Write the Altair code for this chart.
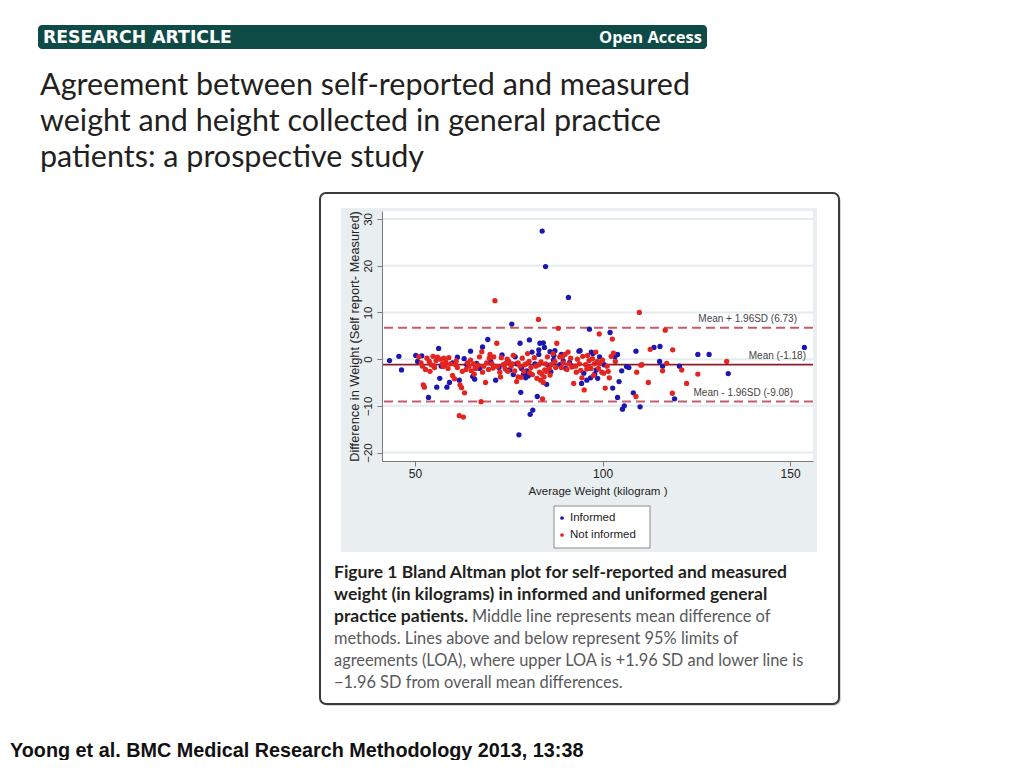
import altair as alt
import pandas as pd

# ---------------- data ----------------
blue_x = [43.2, 45.7, 46.4, 50.2, 50.7, 51.8, 53.6, 55.8, 56.3, 56.6, 57.0, 58.5, 59.2, 60.0,
          61.3, 61.8, 63.1, 63.8, 64.8, 65.4, 65.9, 66.4, 67.2, 68.0, 69.4, 70.2, 71.5, 72.4,
          73.2, 74.5, 75.3, 75.8, 76.7, 77.0, 77.7, 78.0, 78.2, 78.4, 78.9, 79.3, 79.8, 80.5,
          80.7, 81.4, 81.2, 82.0, 82.6, 83.0, 83.3, 83.9, 84.2, 84.8, 85.1, 85.5, 86.0, 86.9,
          87.3, 88.6, 89.5, 90.9, 92.0, 93.7, 94.4, 95.0, 95.8, 96.5, 96.8, 97.4, 97.9, 98.3,
          98.7, 99.2, 100.4, 102.0, 102.7, 104.0, 104.0, 104.4, 105.1, 105.3, 105.8, 106.4,
          107.0, 108.2, 108.9, 110.0, 113.7, 115.3, 115.2, 116.0, 119.2, 120.5, 125.4, 128.4,
          133.5, 153.8, 103.3, 97.0, 94.0,
          76.2, 79.5, 80.2, 83.0, 84.5, 86.2, 87.0, 89.0, 90.2, 91.2]
blue_y = [-0.3, 0.6, -2.3, 0.8, -0.5, 0.7, -8.2, -6.0, 2.3, -4.1, -1.5, -6.0, -5.0, -0.8,
          0.4, -4.5, 0.1, -1.2, 1.7, -3.7, -4.3, -0.9, -2.0, 2.6, 4.2, -0.5, -4.5, -1.8,
          0.9, -2.4, -2.3, 7.5, 0.5, -1.0, -16.2, 3.4, -7.1, -2.0, -3.3, -3.4, -2.5, 4.1,
          -11.8, -10.9, 1.5, -1.0, -8.0, 2.0, 3.4, 27.4, 3.5, 19.8, -5.4, -1.3, 1.6, -0.2,
          1.8, -1.2, -0.4, 13.2, -1.5, 1.7, -5.2, -3.0, -4.5, 6.4, -4.0, 1.2, -3.2, -2.3,
          -4.1, 0.5, -1.2, 5.7, -6.2, 1.0, -8.2, -4.8, -2.5, -10.7, -10.0, -1.6,
          -1.8, -7.2, 1.7, -10.2, 2.5, 2.7, -0.5, -1.5, -8.5, -1.5, 1.0, 1.0,
          -3.1, 2.5, 0.5, 1.5, 1.8,
          -3.3, -4.0, -3.6, 1.0, 2.5, -2.7, 0.8, 1.0, -2.0, -0.7]

red_x = [51.0, 51.6, 52.0, 52.2, 52.5, 52.8, 53.2, 53.8, 54.3, 54.8, 55.2, 55.6, 56.0, 56.8,
         57.3, 57.7, 58.2, 58.8, 59.5, 60.0, 60.5, 60.8, 61.3, 61.8, 62.0, 62.4, 62.9, 63.2,
         63.6, 64.0, 64.4, 65.0, 65.6, 66.2, 66.8, 67.2, 67.6, 67.8, 68.3, 68.8, 69.1, 69.6,
         70.0, 70.5, 71.0, 71.3, 71.8, 72.0, 72.6, 73.0, 73.5, 74.0, 74.6, 75.0, 75.6, 76.2,
         76.6, 77.1, 77.5, 78.0, 78.6, 79.0, 79.6, 80.0, 80.4, 80.9, 81.3, 81.8, 82.2, 82.9,
         83.2, 83.6, 84.0, 84.4, 84.8, 85.3, 85.8, 86.3, 86.8, 87.3, 87.8, 88.2, 88.6, 89.0,
         89.5, 90.0, 90.5, 91.0, 91.5, 92.3, 92.8, 93.3, 93.8, 94.2, 94.7, 95.1, 95.5, 96.0,
         96.4, 96.9, 97.3, 97.8, 98.2, 98.6, 99.1, 99.3, 99.8, 100.3, 100.7, 101.2, 101.8,
         102.3, 102.6, 102.9, 103.4, 108.9, 109.1, 109.8, 110.2, 110.5, 112.2, 112.7, 116.0,
         116.7, 117.1, 118.6, 118.7, 121.1, 122.4, 125.4, 133.1, 83.5, 84.2, 83.8, 84.6, 77.5,
         55.0, 58.0, 62.6, 66.0, 70.8, 74.2, 79.3, 86.0, 91.8, 95.8,
         68.0, 69.8, 72.8, 74.8, 76.0, 78.3, 80.6, 82.5, 83.0, 85.0, 87.5, 89.3, 90.8, 93.0,
         94.5, 96.2, 97.6, 98.9, 100.0, 101.5, 57.5, 59.0, 54.0, 61.0, 64.8, 65.8]
red_y = [0.5, -0.8, -1.5, -5.5, -6.0, -2.2, 0.2, -0.5, -1.2, 0.6, -1.8, -0.3, 0.4, 0.0,
         -1.0, 0.2, -0.6, -2.0, -1.0, -3.5, -4.2, -1.2, -1.8, -12.1, -5.5, -6.1, -12.4, -7.2,
         -2.2, -0.8, -1.5, -2.5, -1.0, -2.0, -1.3, 0.5, -9.1, 1.6, -1.5, -5.0, -0.8, -2.2,
         1.0, -1.0, 0.5, 12.5, 3.4, -1.6, -2.8, 0.3, -1.2, -2.0, 0.0, -0.5, -1.5, 0.8,
         -2.5, -4.8, -0.8, -1.5, 0.2, -2.6, -1.0, 1.2, -0.5, -1.8, -3.3, 0.3, -1.5, 8.5,
         -2.8, -0.6, -8.5, -3.8, -1.0, 0.5, -2.0, -1.2, 1.2, -0.5, 3.4, 6.6, 0.5, -1.8,
         -0.8, 1.0, -2.2, -1.0, 0.2, -5.2, -1.5, 0.0, -1.0, -2.4, 0.6, -6.6, -1.2, 0.8,
         -0.3, -2.0, 0.1, -1.0, 1.5, -0.5, 5.4, -0.9, -2.8, -3.0, -6.2, -1.5, -4.0,
         0.6, 4.3, 1.3, -0.5, -8.0, -2.8, 10.0, -1.3, -1.2, -5.0, 2.1, -2.5,
         6.2, -0.9, -7.3, 2.0, -2.3, -5.2, -3.2, -0.5, -4.5, -5.0, -3.2, -2.3, -3.8,
         -1.4, -1.2, -2.6, -1.8, -1.9, -0.9, -1.2, -3.4, -1.7, -2.1,
         -2.8, 0.2, -3.8, -2.6, -1.0, -3.9, -2.9, -4.1, -1.2, -2.6, -1.8, 0.5, 1.5, -2.8,
         -4.0, -1.6, -3.5, -2.0, -0.2, -2.6, -1.6, 0.3, -2.6, -0.4, -0.2, -3.2]

group_names = ["Informed", "Not informed"]
group_colors = ["#1c17b0", "#e3241f"]

line_values = [6.73, -1.18, -9.08]
line_labels = ["Mean + 1.96SD (6.73)", "Mean (-1.18)", "Mean - 1.96SD (-9.08)"]
grid_values = [-20, -10, 0, 10, 20, 30]
x_ticks = [50, 100, 150]

header_left = "RESEARCH ARTICLE"
header_right = "Open Access"
title_lines = ["Agreement between self-reported and measured",
               "weight and height collected in general practice",
               "patients: a prospective study"]
caption_bold = ["Figure 1 Bland Altman plot for self-reported and measured",
                "weight (in kilograms) in informed and uniformed general"]
caption_bold_end = "practice patients."
caption_reg_first = "Middle line represents mean difference of"
caption_reg = ["methods. Lines above and below represent 95% limits of",
               "agreements (LOA), where upper LOA is +1.96 SD and lower line is",
               "\u22121.96 SD from overall mean differences."]
footer = "Yoong et al. BMC Medical Research Methodology 2013, 13:38"
x_title = "Average Weight (kilogram )"
y_title = "Difference in Weight (Self report- Measured)"

# ---------------- tables ----------------
points = pd.concat([
    pd.DataFrame({"avg": blue_x, "diff": blue_y, "group": group_names[0]}),
    pd.DataFrame({"avg": red_x, "diff": red_y, "group": group_names[1]}),
], ignore_index=True)
lines_df = pd.DataFrame({"v": line_values, "label": line_labels})
grid_df = pd.DataFrame({"v": grid_values})
one = pd.DataFrame({"k": [0]})

W, H = 431, 250
XS = alt.Scale(domain=[41.2, 156.1], nice=False, zero=False)
YS = alt.Scale(domain=[-21.8, 31.7], nice=False, zero=False)
FONT = "Liberation Sans"
SANS = "Lato"


def rect(x1, x2, y1, y2, **kw):
    return alt.Chart(one).mark_rect(**kw).encode(
        x=alt.value(x1), x2=alt.value(x2), y=alt.value(y1), y2=alt.value(y2))


def text(x, y, txt, **kw):
    return alt.Chart(one).mark_text(text=txt, **kw).encode(x=alt.value(x), y=alt.value(y))


header = rect(-344, 325, -186, -162, color="#0e4a46", cornerRadius=4)
header_l = text(-339, -173, header_left, font="DejaVu Sans", fontWeight="bold", fontSize=17.3,
                color="white", align="left", baseline="middle")
header_r = text(320, -173, header_right, font="Open Sans", fontWeight="bold", fontSize=16.5,
                color="white", align="right", baseline="middle")
title = text(-342, -116, title_lines, font=SANS, fontSize=30.5, color="#231f20",
             align="left", baseline="alphabetic", lineHeight=36)

shadow = rect(-60, 459, -16, 495, color="#b8b8b8", cornerRadius=7, opacity=0.6)
box = rect(-62, 457, -18, 493, fill="white", stroke="#3a3a3a", strokeWidth=2, cornerRadius=6)
graph_region = rect(-41, 435, -3, 341, color="#e9eff1")
plot_region = rect(0, W, 0, H, color="white")

grid = alt.Chart(grid_df).mark_rule(color="#e6ecee", strokeWidth=2).encode(
    y=alt.Y("v:Q", scale=YS))

mean_line = alt.Chart(lines_df[lines_df["v"] == line_values[1]]).mark_rule(
    color="#8c1c2a", strokeWidth=1.6).encode(y=alt.Y("v:Q", scale=YS))
loa_lines = alt.Chart(lines_df[lines_df["v"] != line_values[1]]).mark_rule(
    color="#c85a6e", strokeWidth=2, strokeDash=[9, 5]).encode(y=alt.Y("v:Q", scale=YS))

scatter = alt.Chart(points).mark_circle(size=28, opacity=1).encode(
    x=alt.X("avg:Q", scale=XS,
            axis=alt.Axis(values=x_ticks, title=x_title, grid=False, zindex=1,
                          domainColor="#7a7a7a", tickColor="#7a7a7a", tickSize=5,
                          labelFont=FONT, labelFontSize=12, labelColor="#222",
                          labelPadding=2, titleFont=FONT, titleFontSize=11.5,
                          titleFontWeight="normal", titleColor="#222", titlePadding=6)),
    y=alt.Y("diff:Q", scale=YS,
            axis=alt.Axis(values=grid_values, title=y_title, grid=False, zindex=1,
                          domainColor="#7a7a7a", tickColor="#7a7a7a", tickSize=5,
                          labelFont=FONT, labelFontSize=11.5, labelColor="#222",
                          labelAngle=270, labelAlign="center", labelBaseline="bottom",
                          labelPadding=4, titleFont=FONT, titleFontSize=12.8,
                          titleFontWeight="normal", titleColor="#222", titlePadding=1)),
    color=alt.Color("group:N", scale=alt.Scale(domain=group_names, range=group_colors),
                    legend=None),
)

label_right = [415, 424, 411]
line_texts = [
    alt.Chart(lines_df.iloc[[i]]).mark_text(font=FONT, fontSize=10, color="#444",
                                            align="right", baseline="middle", dy=-9).encode(
        y=alt.Y("v:Q", scale=YS), text="label:N", x=alt.value(label_right[i]))
    for i in range(len(line_values))
]

legend_box = rect(172, 268, 295, 337, fill="white", stroke="#8a8a8a", strokeWidth=1)
legend_y = [307, 324]
legend_layers = []
for i, g in enumerate(group_names):
    legend_layers.append(alt.Chart(one).mark_circle(size=14, opacity=1, color=group_colors[i])
                         .encode(x=alt.value(180), y=alt.value(legend_y[i])))
    legend_layers.append(text(188, legend_y[i], g, font=FONT, fontSize=11.5, color="#222",
                              align="left", baseline="middle"))

cap1 = text(-48, 367, caption_bold, font=SANS, fontWeight="bold", fontSize=17.5,
            color="#231f20", align="left", baseline="alphabetic", lineHeight=22.06)
cap2 = text(-48, 411, caption_bold_end, font=SANS, fontWeight="bold", fontSize=17.5,
            color="#231f20", align="left", baseline="alphabetic")
cap3 = text(90, 411, caption_reg_first, font=SANS, fontSize=16.4,
            color="#58595b", align="left", baseline="alphabetic")
cap4 = text(-48, 433.3, caption_reg, font=SANS, fontSize=16.4, color="#58595b",
            align="left", baseline="alphabetic", lineHeight=22.06)

foot = text(-372, 546, footer, font="Liberation Sans", fontWeight="bold", fontSize=19.8,
            color="#111", align="left", baseline="alphabetic")

chart = alt.layer(
    header, header_l, header_r, title, shadow, box, graph_region, plot_region,
    grid, loa_lines, mean_line, scatter, *line_texts,
    legend_box, *legend_layers, cap1, cap2, cap3, cap4, foot,
).properties(
    width=W, height=H,
    autosize=alt.AutoSizeParams(type="none"),
    padding={"left": 374, "top": 203, "right": 195, "bottom": 299},
    background="white",
).configure_view(stroke=None)

chart.save("out.html", embed_options={"renderer": "svg", "actions": False})
